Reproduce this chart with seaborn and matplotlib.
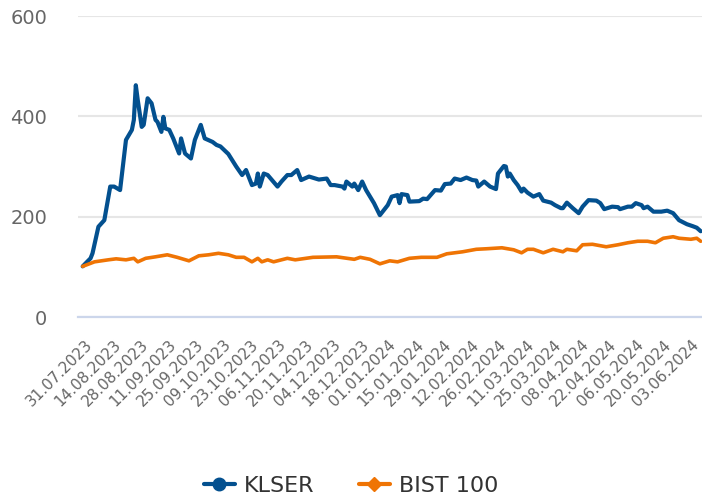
import pandas as pd
import matplotlib.pyplot as plt
from matplotlib.lines import Line2D
import seaborn as sns

# KLSER - okunan değerler
klser_dates = [
    "2023-07-27", "2023-07-31", "2023-08-01", "2023-08-04", "2023-08-07", "2023-08-10",
    "2023-08-12", "2023-08-15", "2023-08-18", "2023-08-21", "2023-08-22", "2023-08-23",
    "2023-08-24", "2023-08-26", "2023-08-27", "2023-08-29", "2023-08-31", "2023-09-02",
    "2023-09-03", "2023-09-05", "2023-09-06", "2023-09-07", "2023-09-09", "2023-09-11",
    "2023-09-14", "2023-09-15", "2023-09-17", "2023-09-20", "2023-09-22", "2023-09-25",
    "2023-09-27", "2023-10-01", "2023-10-03", "2023-10-05", "2023-10-09", "2023-10-13",
    "2023-10-16", "2023-10-18", "2023-10-21", "2023-10-23", "2023-10-24", "2023-10-25",
    "2023-10-27", "2023-10-29", "2023-11-03", "2023-11-05", "2023-11-08", "2023-11-10",
    "2023-11-13", "2023-11-15", "2023-11-19", "2023-11-24", "2023-11-28", "2023-11-30",
    "2023-12-02", "2023-12-06", "2023-12-07", "2023-12-08", "2023-12-11", "2023-12-12",
    "2023-12-14", "2023-12-16", "2023-12-18", "2023-12-22", "2023-12-25", "2023-12-29",
    "2023-12-31", "2024-01-03", "2024-01-04", "2024-01-05", "2024-01-08", "2024-01-09",
    "2024-01-14", "2024-01-16", "2024-01-18", "2024-01-22", "2024-01-25", "2024-01-27",
    "2024-01-30", "2024-02-01", "2024-02-04", "2024-02-07", "2024-02-10", "2024-02-12",
    "2024-02-13", "2024-02-16", "2024-02-19", "2024-02-22", "2024-02-23", "2024-02-26",
    "2024-02-27", "2024-02-28", "2024-02-29", "2024-03-02", "2024-03-04", "2024-03-06",
    "2024-03-07", "2024-03-09", "2024-03-12", "2024-03-15", "2024-03-17", "2024-03-21",
    "2024-03-23", "2024-03-26", "2024-03-27", "2024-03-29", "2024-04-01", "2024-04-04",
    "2024-04-06", "2024-04-09", "2024-04-13", "2024-04-15", "2024-04-17", "2024-04-21",
    "2024-04-24", "2024-04-25", "2024-04-29", "2024-05-01", "2024-05-03", "2024-05-06",
    "2024-05-07", "2024-05-09", "2024-05-12", "2024-05-16", "2024-05-19", "2024-05-22",
    "2024-05-25", "2024-05-29", "2024-06-01", "2024-06-03", "2024-06-05",
]
klser_values = [
    101, 117, 127, 180, 193, 260,
    260, 253, 353, 373, 393, 462,
    432, 379, 383, 436, 426, 393,
    389, 369, 399, 376, 373, 356,
    326, 356, 326, 316, 353, 383,
    356, 349, 343, 340, 325, 300,
    283, 293, 263, 266, 286, 260,
    286, 283, 260, 270, 283, 283,
    293, 273, 280, 274, 276, 263,
    263, 260, 256, 270, 260, 266,
    253, 270, 253, 227, 203, 223,
    240, 243, 227, 245, 243, 230,
    231, 236, 235, 253, 252, 265,
    266, 276, 273, 278, 273, 272,
    260, 270, 260, 255, 286, 301,
    300, 280, 286, 273, 263, 250,
    256, 248, 240, 245, 232, 228,
    223, 217, 217, 228, 217, 207,
    220, 233, 232, 227, 215, 220,
    219, 215, 220, 220, 227, 223,
    217, 220, 210, 210, 212, 207,
    193, 185, 181, 178, 171,
]

# BIST 100
bist_dates = [
    "2023-07-27", "2023-08-02", "2023-08-09", "2023-08-13", "2023-08-18", "2023-08-22",
    "2023-08-24", "2023-08-28", "2023-09-02", "2023-09-08", "2023-09-13", "2023-09-19",
    "2023-09-24", "2023-09-29", "2023-10-04", "2023-10-09", "2023-10-13", "2023-10-17",
    "2023-10-21", "2023-10-24", "2023-10-26", "2023-10-29", "2023-11-01", "2023-11-08",
    "2023-11-12", "2023-11-21", "2023-12-03", "2023-12-12", "2023-12-15", "2023-12-20",
    "2023-12-25", "2023-12-30", "2024-01-03", "2024-01-09", "2024-01-15", "2024-01-23",
    "2024-01-28", "2024-02-05", "2024-02-12", "2024-02-17", "2024-02-25", "2024-03-02",
    "2024-03-06", "2024-03-09", "2024-03-12", "2024-03-17", "2024-03-22", "2024-03-27",
    "2024-03-29", "2024-04-03", "2024-04-06", "2024-04-11", "2024-04-18", "2024-04-24",
    "2024-04-29", "2024-05-04", "2024-05-09", "2024-05-13", "2024-05-17", "2024-05-22",
    "2024-05-25", "2024-05-31", "2024-06-03", "2024-06-05",
]
bist_values = [
    101, 110, 114, 116, 114, 117,
    110, 117, 120, 124, 119, 112,
    122, 124, 127, 124, 119, 119,
    110, 117, 110, 114, 110, 117,
    114, 119, 120, 115, 119, 115,
    106, 112, 110, 117, 119, 119,
    126, 130, 135, 136, 138, 134,
    128, 135, 135, 128, 135, 130,
    135, 132, 144, 145, 140, 144,
    148, 151, 151, 148, 157, 160,
    157, 155, 157, 151,
]

tick_dates = pd.date_range("2023-07-31", "2024-06-03", freq="14D")
y_ticks = [0, 200, 400, 600]

colors = {"KLSER": "#03508f", "BIST 100": "#ef7404"}

df = pd.concat([
    pd.DataFrame({"tarih": pd.to_datetime(klser_dates), "deger": klser_values, "seri": "KLSER"}),
    pd.DataFrame({"tarih": pd.to_datetime(bist_dates), "deger": bist_values, "seri": "BIST 100"}),
], ignore_index=True)

sns.set_style("white")
plt.rcParams["font.family"] = ["DejaVu Sans"]

fig = plt.figure(figsize=(7.02, 4.99), dpi=100)
ax = fig.add_axes([0.111, 0.3647, 0.889, 0.6032])

sns.lineplot(data=df, x="tarih", y="deger", hue="seri", palette=colors,
             estimator=None, linewidth=3, legend=False, ax=ax)
ax.lines[1].set_linewidth(2.6)
for ln in ax.lines:
    ln.set_solid_joinstyle("round")
    ln.set_solid_capstyle("round")

ax.set_ylim(0, 600)
ax.set_xlim(pd.Timestamp("2023-07-24 14:00"), pd.Timestamp("2024-06-05 16:00"))
ax.set_yticks(y_ticks)
ax.set_xticks(tick_dates)
ax.set_xticklabels([d.strftime("%d.%m.%Y") for d in tick_dates],
                   rotation=45, ha="right", va="center", rotation_mode="anchor")
ax.set_xlabel("")
ax.set_ylabel("")

ax.yaxis.grid(True, color="#e6e6e6", linewidth=1.5)
ax.set_axisbelow(True)
for side in ["top", "right", "left"]:
    ax.spines[side].set_visible(False)
ax.spines["bottom"].set_color("#ccd6eb")
ax.spines["bottom"].set_linewidth(1.6)

ax.tick_params(axis="x", length=14, width=1.5, color="#ccd6eb",
               labelsize=11, labelcolor="#666666", pad=4)
ax.tick_params(axis="y", length=0, labelsize=14, labelcolor="#666666", pad=22)

handles = [
    Line2D([0], [0], color=colors["KLSER"], lw=3, marker="o", markersize=9, label="KLSER"),
    Line2D([0], [0], color=colors["BIST 100"], lw=3, marker="D", markersize=7, label="BIST 100"),
]
fig.legend(handles=handles, loc="center", bbox_to_anchor=(0.5, 0.026), ncol=2,
           frameon=False, fontsize=16, handlelength=1.4, handletextpad=0.4,
           columnspacing=2.0, labelcolor="#333333")

fig.savefig("out.png", dpi=100)
